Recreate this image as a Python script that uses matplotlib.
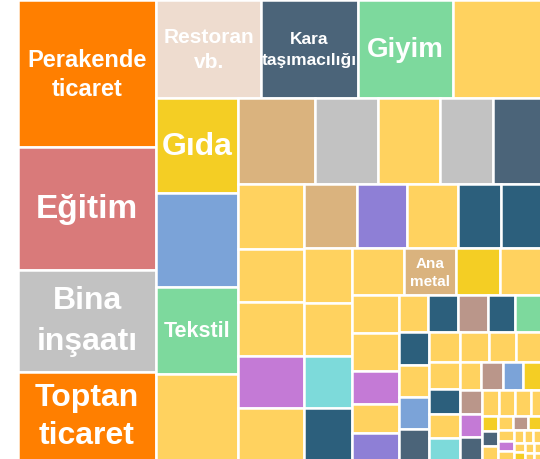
import matplotlib

matplotlib.use("Agg")
import matplotlib.pyplot as plt
from matplotlib.patches import Rectangle

# Sector names ('' where the cell carries no label), sizes and colour groups,
# in the order the treemap lays them out (largest first).
names = [
    "Perakende\nticaret", "Eğitim", "Bina\ninşaatı", "Toptan\nticaret",
    "Restoran\nvb.", "Kara\ntaşımacılığı", "Giyim", "",
    "Gıda", "", "Tekstil", "",
    "", "", "", "", "",
    "", "", "", "", "",
    "", "", "", "", "",
    "", "", "", "",
    "", "Ana\nmetal", "", "",
    "", "", "", "", "",
    "", "", "", "", "",
    "", "", "", "",
    "", "", "", "",
    "", "", "", "",
    "", "", "", "",
    "", "", "",
    "", "", "", "",
    "", "", "", "", "", "", "", "", "", "", "", "", "", "", "", "", "", "",
]
values = [
    200, 166, 138, 120,
    101, 93, 91, 85,
    77, 76, 70, 69.5,
    65, 53.5, 52, 45, 41,
    42, 34.5, 34.5, 34, 33.5,
    33, 32, 31.5, 27.5, 25,
    26, 25, 25, 24.5,
    24, 24, 20.5, 19,
    17, 17, 15.3, 13, 12.2,
    10.8, 10.8, 10.8, 9.7, 9.4,
    9.6, 9.6, 9.5, 9.3,
    9.0, 8.7, 7.9, 7.3,
    8.2, 7.6, 7.4, 6.6,
    5.9, 5.8, 5.6, 4.9,
    5.2, 4.8, 5.0,
    4.5, 4.0, 4.2, 2.5,
    2.5, 2.4, 2.3, 2.0, 1.9, 1.8, 1.7, 1.5, 1.4, 1.3, 1.2, 1.1, 1.0, 0.9, 0.8, 0.7, 0.6, 0.5,
]
groups = [
    "orange", "rose", "gray", "orange",
    "wheat", "slate", "green", "yellow",
    "gold", "blue", "green", "yellow",
    "tan", "gray", "yellow", "gray", "slate",
    "yellow", "yellow", "yellow", "magenta", "yellow",
    "tan", "lavender", "yellow", "teal", "teal",
    "yellow", "yellow", "cyan", "teal",
    "yellow", "tan", "gold", "yellow",
    "yellow", "yellow", "magenta", "yellow", "lavender",
    "yellow", "teal", "brown", "teal", "green",
    "teal", "yellow", "blue", "slate",
    "yellow", "yellow", "yellow", "yellow",
    "yellow", "teal", "yellow", "cyan",
    "yellow", "brown", "blue", "gold",
    "brown", "magenta", "slate",
    "yellow", "yellow", "yellow", "yellow",
    "gold", "slate", "yellow", "yellow", "brown", "gold", "yellow", "magenta", "yellow",
    "yellow", "yellow", "yellow", "yellow", "gold", "yellow", "yellow", "yellow", "yellow",
]

# how many cells go into each strip (strips alternate column / row)
STRIPS = [4, 4, 4, 5, 5, 5, 4, 4, 5, 5, 4, 4, 4, 4, 3, 4, 3, 3, 3, 3, 2, 2, 1, 1]

COLORS = {
    "orange": "#ff7f00",
    "rose": "#d97a7a",
    "gray": "#c2c2c2",
    "wheat": "#eedccf",
    "slate": "#4b6479",
    "green": "#7dd99d",
    "yellow": "#ffd25f",
    "gold": "#f4ce24",
    "blue": "#7ba3d8",
    "tan": "#dab37e",
    "lavender": "#8e7fd6",
    "magenta": "#c47ad6",
    "cyan": "#7ddada",
    "teal": "#2c5f7c",
    "brown": "#ba968a",
}

LABEL_SIZE = {
    "Perakende\nticaret": 17, "Eğitim": 24, "Bina\ninşaatı": 23,
    "Toptan\nticaret": 23, "Restoran\nvb.": 15, "Kara\ntaşımacılığı": 12.5,
    "Giyim": 20, "Gıda": 23, "Tekstil": 15.5, "Ana\nmetal": 11,
}
LINE_SPACING = {"Bina\ninşaatı": 1.5, "Kara\ntaşımacılığı": 1.5}


def strip_treemap(vals, strips, x, y, w, h):
    # Alternating strip layout: column on the left, then a row on top, ...
    # Cell areas stay proportional to the values.
    unit = w * h / float(sum(vals))
    rects = []
    i = 0
    vertical = True
    for n in strips:
        chunk = vals[i:i + n]
        s = sum(chunk) * unit
        if vertical:
            cw = s / h
            yy = y
            for v in chunk:
                ch = v * unit / cw
                rects.append((x, yy, cw, ch))
                yy += ch
            x, w = x + cw, w - cw
        else:
            rh = s / w
            xx = x
            for v in chunk:
                rw = v * unit / rh
                rects.append((xx, y, rw, rh))
                xx += rw
            y, h = y + rh, h - rh
        vertical = not vertical
        i += n
    return rects


fig = plt.figure(figsize=(5.4, 4.6), dpi=100)
ax = fig.add_axes([0, 0, 1, 1])
ax.set_xlim(0, 540)
ax.set_ylim(460, 0)
ax.axis("off")

for (x, y, w, h), name, g in zip(strip_treemap(values, STRIPS, 18, 1, 523, 460), names, groups):
    ax.add_patch(Rectangle((x, y), w, h, facecolor=COLORS[g], edgecolor="white", linewidth=1.8))
    if name:
        ax.text(x + w / 2, y + h / 2, name, ha="center", va="center", color="white",
                fontsize=LABEL_SIZE[name], fontweight="bold", family="Liberation Sans",
                linespacing=LINE_SPACING.get(name, 1.35))

fig.savefig("out.png", dpi=100)
